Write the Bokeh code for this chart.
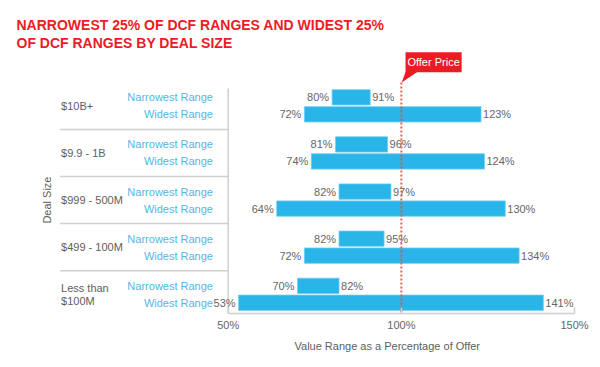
import math
from bokeh.plotting import figure
from bokeh.models import ColumnDataSource, Range1d, FixedTicker, Title
from bokeh.core.properties import value
from bokeh.embed import file_html
from bokeh.resources import INLINE

# ---- data ----
categories = ["$10B+", "$9.9 - 1B", "$999 - 500M", "$499 - 100M", "Less than\n$100M"]
narrow_low = [80, 81, 82, 82, 70]
narrow_high = [91, 96, 97, 95, 82]
wide_low = [72, 74, 64, 72, 53]
wide_high = [123, 124, 130, 134, 141]
series_names = ["Narrowest Range", "Widest Range"]
offer_price = 100
x_ticks = [50, 100, 150]
tick_labels = ["50%", "100%", "150%"]
title_lines = ["NARROWEST 25% OF DCF RANGES AND WIDEST 25%", "OF DCF RANGES BY DEAL SIZE"]
x_title = "Value Range as a Percentage of Offer"
y_title = "Deal Size"
offer_label = "Offer Price"

# ---- style ----
FONT = "Liberation Sans"
BLUE = "#29B5E8"
RED = "#ED1C24"
DOT_RED = "#EE4B4B"
TXT = "#5E5E5E"
VAL_TXT = "#666666"
LBL_BLUE = "#55B5E6"
LINE_GRAY = "#D0D0D0"

N_OFF, W_OFF, BAR_H = -0.18, 0.18, 0.325
Y_TOP, Y_BOT = -1.1745, 4.408

n = len(categories)
idx = list(range(n))

p = figure(width=600, height=367, output_backend="svg", toolbar_location=None,
           x_range=Range1d(-15.75, 157.5), y_range=Range1d(Y_BOT, Y_TOP),
           min_border_left=0, min_border_right=0, min_border_top=50, min_border_bottom=54,
           title=title_lines[0])
p.outline_line_color = None
p.xgrid.visible = False
p.ygrid.visible = False
p.yaxis.visible = False
p.background_fill_color = "white"
p.border_fill_color = "white"

# titles
p.title.align = "left"
p.title.offset = 16
p.title.standoff = 0
p.title.text_font = FONT
p.title.text_font_size = "14px"
p.title.text_font_style = "bold"
p.title.text_color = RED
t2 = Title(text=title_lines[1], align="left", offset=16, standoff=0, text_font=FONT,
           text_font_size="14px", text_font_style="bold", text_color=RED)
p.add_layout(t2, "above")

# x axis
ax = p.xaxis[0]
ax.bounds = (x_ticks[0], x_ticks[-1])
ax.ticker = FixedTicker(ticks=x_ticks)
ax.major_label_overrides = {t: l for t, l in zip(x_ticks, tick_labels)}
ax.minor_tick_line_color = None
ax.major_tick_in = 6
ax.major_tick_out = 0
ax.axis_line_color = LINE_GRAY
ax.axis_line_width = 1.5
ax.major_tick_line_color = LINE_GRAY
ax.major_tick_line_width = 1.5
ax.major_label_text_font = FONT
ax.major_label_text_font_size = "11px"
ax.major_label_text_color = VAL_TXT
ax.major_label_standoff = 5

xt = Title(text=x_title, align="left", offset=294, standoff=8, text_font=FONT,
           text_font_size="11px", text_font_style="normal", text_color=TXT)
p.add_layout(xt, "below")

# left structure lines
p.segment(x0=x_ticks[0], x1=x_ticks[0], y0=-0.37, y1=Y_BOT, line_color=LINE_GRAY, line_width=1.5)
sep_y = [i + 0.5 for i in idx[:-1]]
p.segment(x0=1.45, x1=x_ticks[0], y0=sep_y, y1=sep_y, line_color=LINE_GRAY, line_width=1.5)

# bars
ys = [i + N_OFF for i in idx] + [i + W_OFF for i in idx]
lows = narrow_low + wide_low
highs = narrow_high + wide_high
src = ColumnDataSource(dict(y=ys, left=lows, right=highs,
                            lo_txt=[f"{v}%" for v in lows],
                            hi_txt=[f"{v}%" for v in highs]))
p.hbar(y="y", left="left", right="right", height=BAR_H, source=src,
       fill_color=BLUE, line_color="#6FCDF0", line_width=0.8)
p.text(x="left", y="y", text="lo_txt", source=src, x_offset=-3, text_align="right",
       text_baseline="middle", text_font=value(FONT), text_font_size="11px", text_color=VAL_TXT)
p.text(x="right", y="y", text="hi_txt", source=src, x_offset=2, text_align="left",
       text_baseline="middle", text_font=value(FONT), text_font_size="11px", text_color=VAL_TXT)

# offer price marker
p.segment(x0=offer_price, x1=offer_price, y0=-0.495, y1=4.38, line_color=DOT_RED,
          line_width=2, line_dash="2 2", line_alpha=0.9)
p.quad(left=offer_price + 1.2, right=offer_price + 17.4, top=-1.138, bottom=-0.714,
       fill_color=RED, line_color=None)
p.patch(x=[offer_price + 1.2, offer_price + 4.6, offer_price + 0.1],
        y=[-0.72, -0.72, -0.495], fill_color=RED, line_color=None)
p.text(x=[offer_price + 9.3], y=[-0.926], text=[offer_label], text_align="center",
       text_baseline="middle", text_font=value(FONT), text_font_size="11px", text_color="white")

# series labels
s_src = ColumnDataSource(dict(
    y=[i + N_OFF for i in idx] + [i + W_OFF for i in idx],
    t=[series_names[0]] * n + [series_names[1]] * n))
p.text(x=45.6, y="y", text="t", source=s_src, text_align="right", text_baseline="middle",
       text_font=value(FONT), text_font_size="11px", text_color=LBL_BLUE)

# category labels
c_src = ColumnDataSource(dict(y=idx, t=categories))
p.text(x=1.73, y="y", text="t", source=c_src, text_align="left", text_baseline="middle",
       text_font=value(FONT), text_font_size="11px", text_color=TXT, text_line_height=1.05)

# y title
p.text(x=[-2.2], y=[2.0], text=[y_title], angle=math.pi / 2, text_align="center",
       text_baseline="middle", text_font=value(FONT), text_font_size="11px", text_color=TXT)

open("out.html", "w").write(file_html(p, INLINE))
